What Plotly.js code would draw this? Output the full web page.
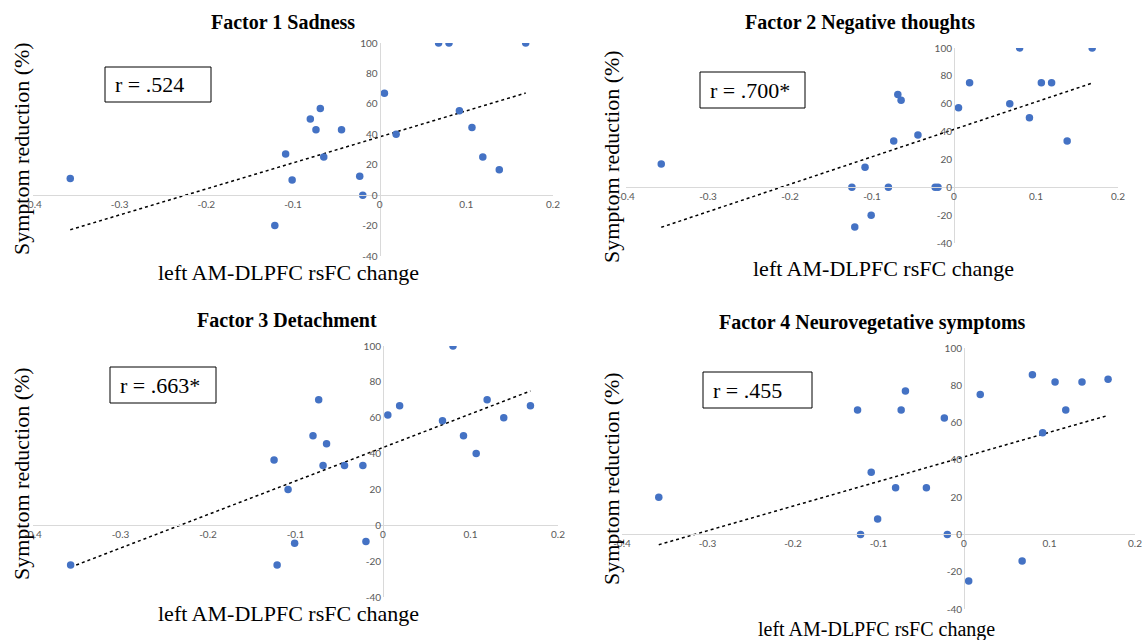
<!DOCTYPE html>
<html>
<head>
<meta charset="utf-8">
<script src="https://cdn.plot.ly/plotly-3.0.1.min.js"></script>
<style>html,body{margin:0;padding:0;background:#fff;}#chart{width:1143px;height:640px;}</style>
</head>
<body>
<div id="chart"></div>
<script>
// rsFC change per subject (shared across factors)
const rsfcChange = [-0.357, -0.1245, -0.121, -0.1085, -0.101, -0.080, -0.0735, -0.0685, -0.0645, -0.044, -0.023, -0.0195, 0.0055, 0.019, 0.068, 0.080, 0.092, 0.1065, 0.119, 0.138, 0.1685];
// symptom reduction (%) per factor (null = not shown)
const factor1Sadness = [11, null, -20, 27, 10, 50, 43, 57, 25, 43, 12.5, 0, 67, 40, 100, 100, 55.5, 44.4, 25, 16.7, 100];
const factor2Negative = [16.7, 0, -28.6, 14.3, -20, 0, 33.3, 66.7, 62.5, 37.5, 0, 0, 57.1, 75, 60, 100, 50, 75, 75, 33.3, 100];
const factor3Detachment = [-22.2, 36.4, -22.2, 20, -10, 50, 70, 33.3, 45.5, 33.3, 33.3, -9.1, 61.5, 66.7, 58.3, 100, 50, 40, 70, 60, 66.7];
const factor4Neuroveg = [20, 66.7, 0, 33.3, 8.3, 25, 66.7, 76.9, null, 25, 62.5, 0, -25, 75, -14.3, 85.7, 54.5, 81.8, 66.7, 81.8, 83.3];

// linear trendline coefficients (y = intercept + slope * x)
const trendSlope = [171, 197, 187, 132];
const trendIntercept = [38.3, 41.6, 43.4, 41.6];

const panelTitles = ["Factor 1 Sadness", "Factor 2 Negative thoughts", "Factor 3 Detachment", "Factor 4 Neurovegetative symptoms"];
const rLabels = ["r = .524", "r = .700*", "r = .663*", "r = .455"];
const xTitle = "left AM-DLPFC rsFC change";
const yTitle = "Symptom reduction (%)";
const xTickVals = [-0.4, -0.3, -0.2, -0.1, 0, 0.1, 0.2];
const xTickText = ["-0.4", "-0.3", "-0.2", "-0.1", "0", "0.1", "0.2"];
const yTickVals = [-40, -20, 0, 20, 40, 60, 80, 100];
const yTickText = ["-40", "-20", "0", "20", "40", "60", "80", "100"];

const seriesList = [factor1Sadness, factor2Negative, factor3Detachment, factor4Neuroveg];

// layout geometry (pixels)
const W = 1143, H = 640;
const panels = [
  {x0: 33, x1: 553, yTop: 43, yBot: 256, title: [283, 22], xt: [288, 272, 22], yt: [21, 149], box: [105, 67, 106, 35]},
  {x0: 626, x1: 1118, yTop: 48, yBot: 243, title: [860, 22], xt: [883, 268, 22], yt: [611, 157], box: [700, 72, 105, 36]},
  {x0: 33, x1: 558, yTop: 346, yBot: 597, title: [287, 320], xt: [288, 613, 22], yt: [21, 474], box: [110, 367, 106, 36]},
  {x0: 622, x1: 1135, yTop: 348, yBot: 609, title: [872, 322], xt: [876, 629, 20], yt: [611, 479], box: [703, 372, 109, 36]}
];
const xr = [-0.4, 0.2], yr = [-40, 100];

function trend(k, xs, ys) {
  const px = xs.filter((v, i) => ys[i] !== null);
  const lo = Math.min(...px), hi = Math.max(...px);
  return {x: [lo, hi], y: [trendIntercept[k] + trendSlope[k] * lo, trendIntercept[k] + trendSlope[k] * hi]};
}

const data = [], layout = {
  width: W, height: H, margin: {l: 0, r: 0, t: 0, b: 0},
  paper_bgcolor: '#fff', plot_bgcolor: 'rgba(0,0,0,0)', showlegend: false,
  annotations: [], shapes: []
};
const tickFont = {family: 'Lato, "Liberation Sans", sans-serif', size: 10, color: '#595959'};
const serif = 'Liberation Serif';

panels.forEach((p, k) => {
  const i = k + 1;
  const xa = 'x' + (i === 1 ? '' : i), ya = 'y' + (i === 1 ? '' : i);
  const xd = [p.x0 / W, p.x1 / W];
  const yd = [1 - p.yBot / H, 1 - p.yTop / H];
  const yAxisPos = xd[0] + (0 - xr[0]) / (xr[1] - xr[0]) * (xd[1] - xd[0]);
  const xAxisPos = yd[0] + (0 - yr[0]) / (yr[1] - yr[0]) * (yd[1] - yd[0]);
  layout['xaxis' + (i === 1 ? '' : i)] = {
    domain: xd, range: xr, anchor: 'free', position: xAxisPos,
    showline: true, linecolor: '#d9d9d9', linewidth: 1, showgrid: false, zeroline: false,
    ticks: '', tickvals: xTickVals, ticktext: xTickText, tickfont: tickFont, automargin: false
  };
  layout['yaxis' + (i === 1 ? '' : i)] = {
    domain: yd, range: yr, anchor: 'free', position: yAxisPos,
    showline: true, linecolor: '#d9d9d9', linewidth: 1, showgrid: false, zeroline: false,
    ticks: '', tickvals: yTickVals, ticktext: yTickText, tickfont: tickFont, automargin: false
  };
  const ys = seriesList[k];
  const fit = trend(k, rsfcChange, ys);
  data.push({
    x: fit.x, y: fit.y, xaxis: xa, yaxis: ya, type: 'scatter', mode: 'lines',
    line: {color: '#000', width: 1.5, dash: 'dot'}, hoverinfo: 'skip'
  });
  data.push({
    x: rsfcChange, y: ys, xaxis: xa, yaxis: ya, type: 'scatter', mode: 'markers',
    marker: {color: '#4472C4', size: 7.5}
  });
  layout.annotations.push({
    text: panelTitles[k], xref: 'paper', yref: 'paper',
    x: p.title[0] / W, y: 1 - p.title[1] / H, xanchor: 'center', yanchor: 'middle', showarrow: false,
    font: {family: serif, size: 20, color: '#000', weight: 'bold'}
  });
  layout.annotations.push({
    text: xTitle, xref: 'paper', yref: 'paper',
    x: p.xt[0] / W, y: 1 - p.xt[1] / H, xanchor: 'center', yanchor: 'middle', showarrow: false,
    font: {family: serif, size: p.xt[2], color: '#000'}
  });
  layout.annotations.push({
    text: yTitle, xref: 'paper', yref: 'paper', textangle: -90,
    x: p.yt[0] / W, y: 1 - p.yt[1] / H, xanchor: 'center', yanchor: 'middle', showarrow: false,
    font: {family: serif, size: 22, color: '#000'}
  });
  const b = p.box;
  layout.shapes.push({
    type: 'rect', xref: 'paper', yref: 'paper',
    x0: b[0] / W, x1: (b[0] + b[2]) / W, y0: 1 - (b[1] + b[3]) / H, y1: 1 - b[1] / H,
    line: {color: '#000', width: 1}, fillcolor: '#fff', layer: 'above'
  });
  layout.annotations.push({
    text: rLabels[k], xref: 'paper', yref: 'paper',
    x: (b[0] + 8) / W, y: 1 - (b[1] + b[3] / 2) / H, xanchor: 'left', yanchor: 'middle', showarrow: false,
    font: {family: serif, size: 22, color: '#000'}
  });
});

Plotly.newPlot('chart', data, layout, {displayModeBar: false, staticPlot: true});
</script>
</body>
</html>
